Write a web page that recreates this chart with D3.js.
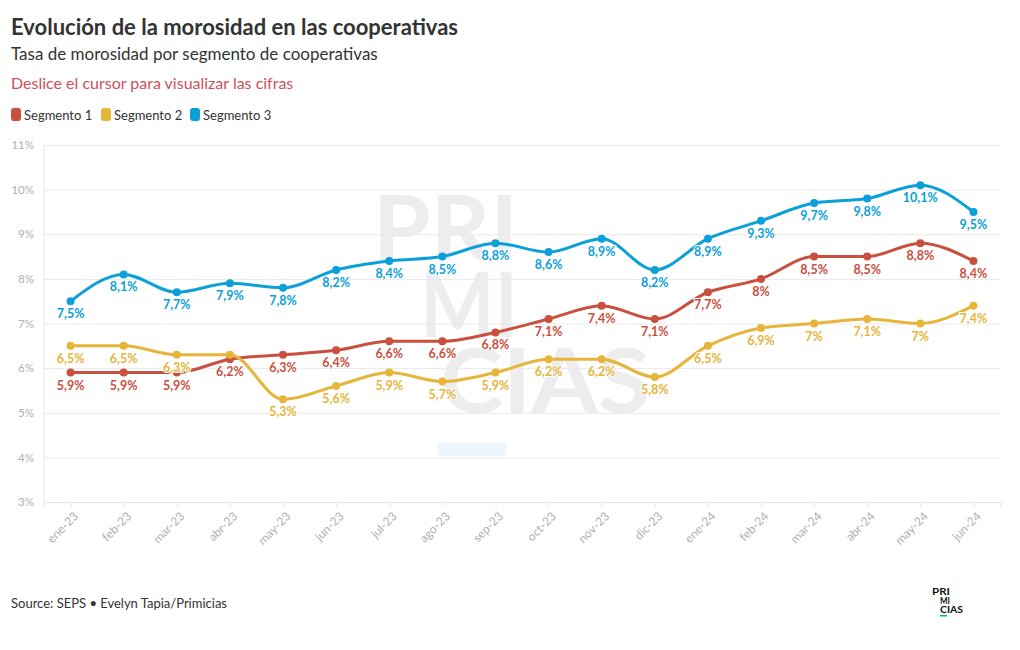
<!DOCTYPE html>
<html><head><meta charset="utf-8">
<script src="https://cdn.jsdelivr.net/npm/d3@7"></script>
<style>
body{margin:0;background:#fff;}
svg text{font-family:Lato,"Open Sans",sans-serif;}
</style></head>
<body><svg id="c" width="1020" height="650"></svg>
<script>
const months = ["ene-23","feb-23","mar-23","abr-23","may-23","jun-23","jul-23","ago-23","sep-23","oct-23","nov-23","dic-23","ene-24","feb-24","mar-24","abr-24","may-24","jun-24"];
const seg1 = [5.9,5.9,5.9,6.2,6.3,6.4,6.6,6.6,6.8,7.1,7.4,7.1,7.7,8.0,8.5,8.5,8.8,8.4];
const seg2 = [6.5,6.5,6.3,6.3,5.3,5.6,5.9,5.7,5.9,6.2,6.2,5.8,6.5,6.9,7.0,7.1,7.0,7.4];
const seg3 = [7.5,8.1,7.7,7.9,7.8,8.2,8.4,8.5,8.8,8.6,8.9,8.2,8.9,9.3,9.7,9.8,10.1,9.5];
const seriesNames = ["Segmento 1","Segmento 2","Segmento 3"];
const colors = ["#c9503e","#e6b53a","#0ca0d9"];
const yTicks = [3,4,5,6,7,8,9,10,11];

const svg = d3.select("#c");
const L=44,R=1000,T=145,B=502;
const x = d3.scalePoint().domain(months).range([L,R]).padding(0.5);
const y = d3.scaleLinear().domain([3,11]).range([B,T]);

// titles
svg.append("text").attr("x",11).attr("y",35).attr("font-size",22).attr("font-weight",700).attr("fill","#333").text("Evolución de la morosidad en las cooperativas");
svg.append("text").attr("x",11).attr("y",60).attr("font-size",17).attr("fill","#333").text("Tasa de morosidad por segmento de cooperativas");
svg.append("text").attr("x",11).attr("y",89).attr("font-size",16).attr("fill","#d0505a").text("Deslice el cursor para visualizar las cifras");

// legend
const legX=[11,101,190];
seriesNames.forEach((n,i)=>{
  svg.append("rect").attr("x",legX[i]).attr("y",108).attr("width",10).attr("height",13).attr("rx",3).attr("fill",colors[i]);
  svg.append("text").attr("x",legX[i]+13).attr("y",119.5).attr("font-size",13).attr("fill","#333").text(n);
});

// watermark logo
const wm = svg.append("g").attr("fill","#ededed").attr("font-family","DejaVu Sans").attr("font-weight",700).attr("font-size",90).attr("lengthAdjust","spacingAndGlyphs");
wm.append("text").attr("x",373).attr("y",260).attr("textLength",145).attr("lengthAdjust","spacingAndGlyphs").text("PRI");
wm.append("text").attr("x",420).attr("y",337).attr("textLength",98).attr("lengthAdjust","spacingAndGlyphs").text("MI");
wm.append("text").attr("x",440).attr("y",413).attr("textLength",210).attr("lengthAdjust","spacingAndGlyphs").text("CIAS");
svg.append("rect").attr("x",438).attr("y",442).attr("width",68).attr("height",14).attr("fill","#eef6fd");

// grid
const yAxis = d3.axisLeft(y).tickValues(yTicks).tickSize(-(R-L)).tickFormat(d=>d+"%");
const gy = svg.append("g").attr("transform",`translate(${L},0)`).call(yAxis);
gy.select(".domain").remove();
gy.selectAll(".tick line").attr("stroke","#e9e9e9");
gy.selectAll(".tick text").attr("x",-10).attr("font-size",11.5).attr("fill","#b0b0b0");
svg.append("line").attr("x1",L).attr("x2",L).attr("y1",T).attr("y2",B).attr("stroke","#e6e6e6");

const xAxis = d3.axisBottom(x).tickSize(5);
const gx = svg.append("g").attr("transform",`translate(0,${B})`).call(xAxis);
gx.select(".domain").attr("stroke","#e6e6e6");
gx.selectAll(".tick line").attr("stroke","#e6e6e6");
gx.selectAll(".tick text").attr("font-size",12).attr("fill","#b0b0b0").attr("text-anchor","end")
  .attr("transform","translate(5,12) rotate(-45)").attr("dy","0.35em").attr("y",0).attr("x",0);

const line = d3.line().x((d,i)=>x(months[i])).y(d=>y(d)).curve(d3.curveMonotoneX);
const all=[seg1,seg2,seg3];
const fmt = v=> (Math.round(v*10)/10).toString().replace(".",",")+"%";
all.forEach((s,k)=>{
  svg.append("path").datum(s).attr("d",line).attr("fill","none").attr("stroke",colors[k]).attr("stroke-width",3);
});
// points
all.forEach((s,k)=>{
  svg.append("g").selectAll("circle").data(s).join("circle").attr("cx",(d,i)=>x(months[i])).attr("cy",d=>y(d)).attr("r",4).attr("fill",colors[k]);
});
// labels with overlap hiding (earlier series wins)
const boxes=[];
const lg0=svg.append("g");
all.forEach((s,k)=>{
  s.forEach((d,i)=>{
    const t=lg0.append("text").attr("x",x(months[i])).attr("y",y(d)+17)
     .attr("text-anchor","middle").attr("font-size",12.5).attr("font-weight",700).attr("fill",colors[k])
     .attr("stroke","#fff").attr("stroke-width",2).attr("paint-order","stroke").text(fmt(d));
    const b=t.node().getBBox();
    const hit=boxes.some(o=>b.x<o.x+o.width-2&&o.x<b.x+b.width-2&&b.y<o.y+o.height-4&&o.y<b.y+b.height-4);
    if(hit) t.remove(); else boxes.push(b);
  });
});

svg.append("text").attr("x",11).attr("y",608).attr("font-size",13).attr("fill","#333").text("Source: SEPS • Evelyn Tapia/Primicias");
const lg=svg.append("g").attr("font-family","DejaVu Sans").attr("font-weight",700).attr("font-size",10).attr("fill","#111");
lg.append("text").attr("x",932).attr("y",595).attr("textLength",18).attr("lengthAdjust","spacingAndGlyphs").text("PRI");
lg.append("text").attr("x",940).attr("y",604).attr("textLength",10).attr("lengthAdjust","spacingAndGlyphs").text("MI");
lg.append("text").attr("x",940).attr("y",613).attr("textLength",23).attr("lengthAdjust","spacingAndGlyphs").text("CIAS");
svg.append("rect").attr("x",940).attr("y",615).attr("width",7).attr("height",1.5).attr("fill","#0ca0d9");
</script></body></html>
